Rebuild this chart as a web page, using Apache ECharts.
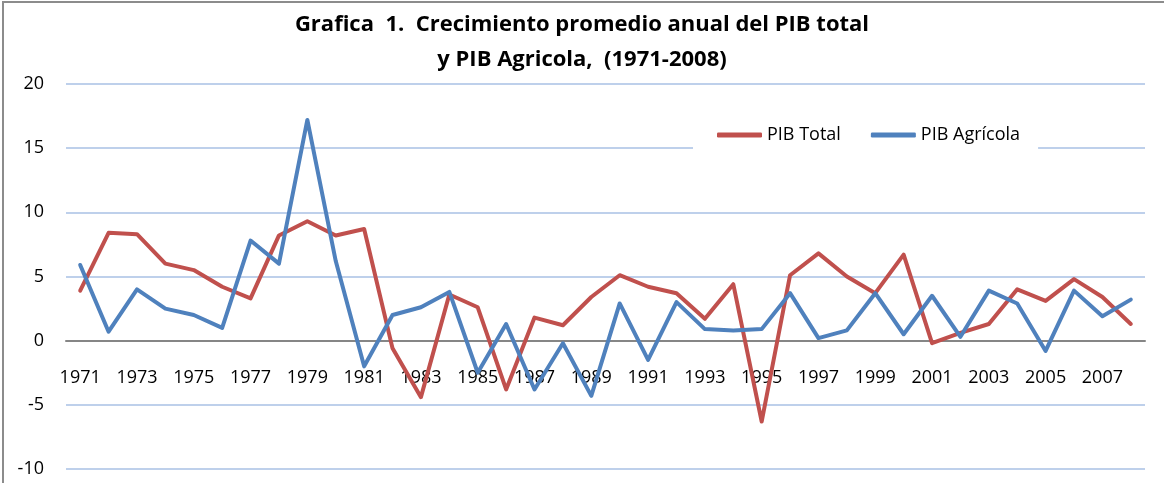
<!DOCTYPE html>
<html>
<head>
<meta charset="utf-8">
<script src="https://cdn.jsdelivr.net/npm/echarts@6/dist/echarts.min.js"></script>
<style>
  html, body { margin: 0; padding: 0; background: #fff; overflow: hidden; }
  #frame { position: absolute; left: 2px; top: 1px; width: 1170px; height: 490px; border: 2px solid #8c8c8c; box-sizing: border-box; }
  #chart { position: absolute; left: 0; top: 0; width: 1164px; height: 483px; }
</style>
</head>
<body>
<div id="frame"></div>
<div id="chart"></div>
<script>
// años 1971-2008
const years = [
  '1971', '1972', '1973', '1974', '1975', '1976', '1977', '1978', '1979', '1980',
  '1981', '1982', '1983', '1984', '1985', '1986', '1987', '1988', '1989', '1990',
  '1991', '1992', '1993', '1994', '1995', '1996', '1997', '1998', '1999', '2000',
  '2001', '2002', '2003', '2004', '2005', '2006', '2007', '2008'
];
// crecimiento anual (%)
const pibTotal = [
  3.9, 8.4, 8.3, 6.0, 5.5, 4.2, 3.3, 8.2, 9.3, 8.2,
  8.7, -0.6, -4.4, 3.6, 2.6, -3.8, 1.8, 1.2, 3.4, 5.1,
  4.2, 3.7, 1.7, 4.4, -6.3, 5.1, 6.8, 5.0, 3.7, 6.7,
  -0.2, 0.6, 1.3, 4.0, 3.1, 4.8, 3.4, 1.3
];
const pibAgricola = [
  5.9, 0.7, 4.0, 2.5, 2.0, 1.0, 7.8, 6.0, 17.2, 6.2,
  -2.0, 2.0, 2.6, 3.8, -2.5, 1.3, -3.8, -0.2, -4.3, 2.9,
  -1.5, 3.0, 0.9, 0.8, 0.9, 3.7, 0.2, 0.8, 3.7, 0.5,
  3.5, 0.3, 3.9, 2.9, -0.8, 3.9, 1.9, 3.2
];
const yTicks = { min: -10, max: 20, step: 5 };

const grid = { left: 66, right: 19, top: 84, bottom: 14 };
// the category axis sits on the zero line (labels included)
const plotHeight = 483 - grid.top - grid.bottom;
const zeroOffset = -plotHeight * (0 - yTicks.min) / (yTicks.max - yTicks.min);

const chart = echarts.init(document.getElementById('chart'));
chart.setOption({
  animation: false,
  title: {
    text: 'Grafica  1.  Crecimiento promedio anual del PIB total\ny PIB Agricola,  (1971-2008)',
    left: 'center',
    top: 2,
    textStyle: {
      fontFamily: 'Open Sans',
      fontWeight: 'bold',
      fontSize: 22,
      lineHeight: 35,
      color: '#000'
    }
  },
  legend: {
    left: 693,
    top: 118,
    padding: [8, 18, 12, 24],
    backgroundColor: '#fff',
    itemGap: 30,
    itemWidth: 45,
    itemHeight: 5,
    icon: 'roundRect',
    textStyle: { fontFamily: 'Open Sans', fontSize: 18, color: '#000' },
    data: ['PIB Total', 'PIB Agrícola']
  },
  grid: grid,
  xAxis: {
    type: 'category',
    data: years,
    boundaryGap: true,
    offset: zeroOffset,
    axisLine: { onZero: false, lineStyle: { color: '#868686', width: 2 } },
    axisTick: { show: false },
    axisLabel: {
      interval: 1,
      margin: 28,
      fontFamily: 'Open Sans',
      fontSize: 18,
      color: '#000'
    }
  },
  yAxis: {
    type: 'value',
    min: yTicks.min,
    max: yTicks.max,
    interval: yTicks.step,
    axisLine: { show: false },
    axisTick: { show: false },
    axisLabel: { margin: 22, fontFamily: 'Open Sans', fontSize: 18, color: '#000' },
    splitLine: { lineStyle: { color: '#a9c0e4', width: 1.5 } }
  },
  series: [
    {
      name: 'PIB Total',
      type: 'line',
      data: pibTotal,
      symbol: 'none',
      color: '#C0504D',
      lineStyle: { width: 4, color: '#C0504D', cap: 'round', join: 'round' },
      z: 3
    },
    {
      name: 'PIB Agrícola',
      type: 'line',
      data: pibAgricola,
      symbol: 'none',
      color: '#4F81BD',
      lineStyle: { width: 4, color: '#4F81BD', cap: 'round', join: 'round' },
      z: 4
    }
  ]
});
</script>
</body>
</html>
